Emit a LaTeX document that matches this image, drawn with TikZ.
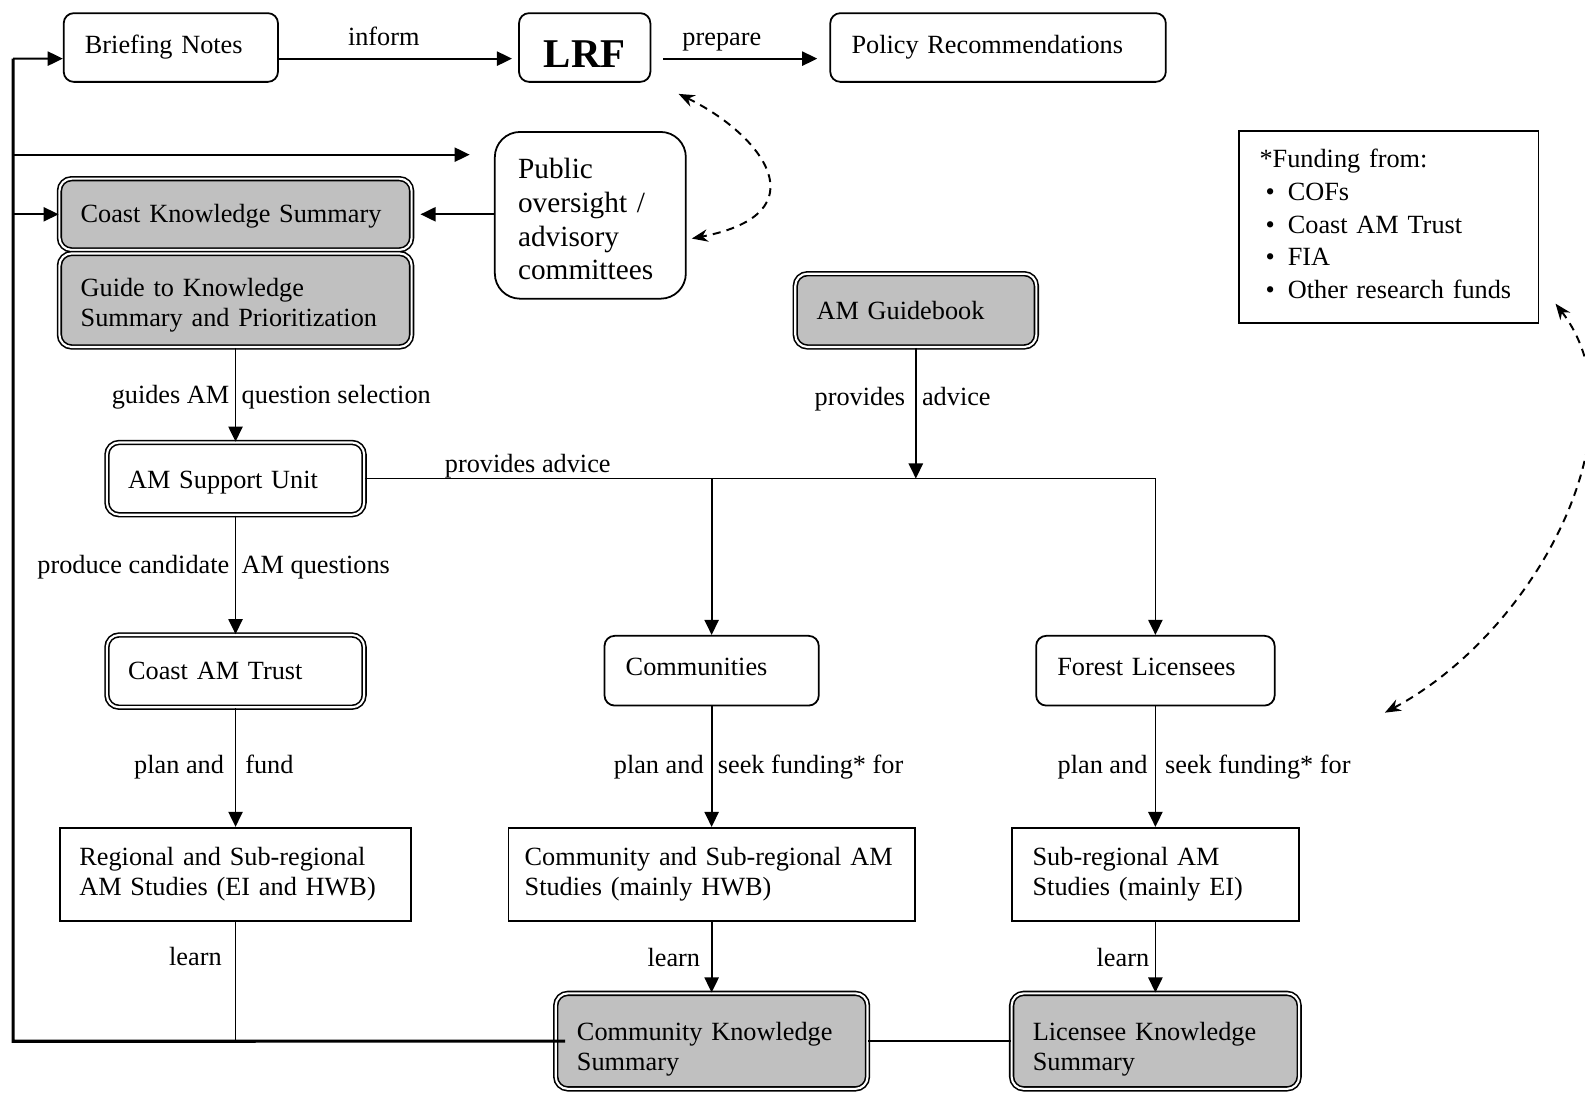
\documentclass[tikz,border=0pt]{standalone}
\usepackage{fontspec}
\setmainfont{Liberation Serif}
\usepackage{tikz}
\usetikzlibrary{arrows.meta,positioning}
\definecolor{boxgray}{RGB}{192,192,192}

\begin{document}
\begin{tikzpicture}[x=0.02cm, y=-0.02cm, >={Triangle[length=8.5pt,width=8pt]},
  every node/.style={font=\fontsize{14.8}{17}\selectfont},
  box/.style={draw, line width=1pt, align=left, inner xsep=0.42cm, inner ysep=0pt},
  roundbox/.style={box, rounded corners=0.2cm},
  dblbox/.style={box, rounded corners=0.24cm, line width=0.9pt, double=white, double distance=1.2pt},
  keybox/.style={dblbox, fill=boxgray},
  link/.style={->, line width=1pt},
  loopline/.style={line width=1.8pt},
  dashlink/.style={{Stealth[length=9pt,width=7pt]}-{Stealth[length=9pt,width=7pt]}, line width=1.1pt, dash pattern=on 4.5pt off 3.5pt},
  lbl/.style={inner xsep=3pt, text height=0.7em, text depth=0.22em, yshift=-2.8pt}]
\useasboundingbox (0,0) rectangle (1568,1082);

% Nodes
\node[roundbox, text width=3.4cm, minimum height=1.36cm] (brief) at (169,47) {Briefing Notes};
\node[roundbox, minimum width=2.6cm, minimum height=1.36cm, text height=22pt,
  font=\fontsize{23}{26}\selectfont\bfseries, right of=brief, node distance=8.19cm] (lrf) {LRF};
\node[roundbox, text width=5.8cm, minimum height=1.36cm, right of=lrf, node distance=8.18cm] (policy) {Policy Recommendations};

\node[box, rounded corners=0.5cm, text width=2.86cm, inner xsep=0.46cm, minimum height=3.3cm,
  font=\fontsize{16.5}{19}\selectfont] (oversight) at (584,213) {\rule{0pt}{16pt}Public\\ oversight /\\ advisory\\ committees};

\node[keybox, text width=6.13cm, minimum height=1.41cm] (cks) at (233,212) {\rule{0pt}{12.7pt}Coast Knowledge Summary};
\node[keybox, text width=6.13cm, minimum height=1.85cm, below of=cks, node distance=1.7cm] (guide) {\rule{0pt}{16pt}Guide to Knowledge\\ Summary and Prioritization};
\node[keybox, text width=3.93cm, minimum height=1.45cm] (guidebook) at (906,307) {AM Guidebook};

\node[box, text width=5.12cm, inner xsep=0.4cm, minimum height=3.8cm,
  font=\fontsize{14.8}{18.5}\selectfont] (fund) at (1374,224.5) {*Funding from:\\
  \hspace*{0.12cm}\makebox[0.44cm][l]{\textbullet}COFs\\
  \hspace*{0.12cm}\makebox[0.44cm][l]{\textbullet}Coast AM Trust\\
  \hspace*{0.12cm}\makebox[0.44cm][l]{\textbullet}FIA\\
  \hspace*{0.12cm}\makebox[0.44cm][l]{\textbullet}Other research funds\rule[-3.5pt]{0pt}{0pt}};

\node[dblbox, text width=4.25cm, minimum height=1.43cm, below of=guide, node distance=3.53cm] (asu) {\rule{0pt}{13.8pt}AM Support Unit};
\node[dblbox, text width=4.25cm, minimum height=1.43cm, below of=asu, node distance=3.81cm] (trust) {Coast AM Trust};
\node[box, text width=6.18cm, inner xsep=0.38cm, minimum height=1.84cm, below of=trust, node distance=4.02cm] (regional) {Regional and Sub-regional\\ AM Studies (EI and HWB)};

\node[roundbox, text width=3.4cm, minimum height=1.38cm] (comm) at (704,663.5) {Communities\rule[-4.5pt]{0pt}{0pt}};
\node[box, text width=7.4cm, inner xsep=0.32cm, minimum height=1.84cm, below of=comm, node distance=4.03cm] (cstud) {Community and Sub-regional AM\\ Studies (mainly HWB)};
\node[keybox, text width=5.33cm, minimum height=1.89cm, below of=cstud, node distance=3.3cm] (ckns) {\rule{0pt}{19.5pt}Community Knowledge\\ Summary};

\node[roundbox, text width=3.88cm, minimum height=1.38cm] (forest) at (1143,663.5) {Forest Licensees\rule[-4.5pt]{0pt}{0pt}};
\node[box, text width=4.86cm, inner xsep=0.41cm, minimum height=1.84cm, below of=forest, node distance=4.03cm] (sstud) {Sub-regional AM\\ Studies (mainly EI)};
\node[keybox, text width=4.85cm, minimum height=1.89cm, below of=sstud, node distance=3.3cm] (lkns) {\rule{0pt}{19.5pt}Licensee Knowledge\\ Summary};

% Top row
\draw[link] ([yshift=-0.22cm]brief.east) -- node[lbl, above=4pt, pos=0.45] {inform} ([xshift=-0.12cm,yshift=-0.22cm]lrf.west);
\draw[link] ([xshift=0.24cm,yshift=-0.22cm]lrf.east) -- node[lbl, above=4pt, pos=0.38] {prepare} ([xshift=-0.24cm,yshift=-0.22cm]policy.west);

% Feedback loop on the left
\coordinate (loopbot) at (13,1030);
\coordinate (looptop) at (13,58);
\coordinate (ovin) at ([xshift=-0.48cm,yshift=1.2cm]oversight.west);
\draw[loopline] ([xshift=0.2cm]ckns.west) -- (loopbot) -- (looptop);
\draw[link] (looptop) -- ([yshift=-0.22cm]brief.west);
\draw[link] (looptop |- ovin) -- (ovin);
\draw[link] (looptop |- cks.west) -- (cks.west);
\draw[link] (oversight.west |- cks.east) -- ([xshift=0.16cm]cks.east);

% Dashed links
\draw[dashlink] ([xshift=0.54cm,yshift=-0.22cm]lrf.south east) .. controls +(82,40) and +(130,-25) .. ([xshift=0.1cm,yshift=-0.46cm]oversight.east);
\coordinate (fundtip) at (1370,705);
\draw[dashlink] ([xshift=0.32cm,yshift=0.4cm]fund.south east) .. controls +(90,117) and +(150,-80) .. (fundtip);

% Support unit and guidebook advice
\draw[link] (guide) -- node[lbl, left] {guides AM} node[lbl, right] {question selection} (asu);
\draw[link] (asu) -- node[lbl, left, pos=0.41] {produce candidate} node[lbl, right, pos=0.41] {AM questions} (trust);
\draw[link] (asu.east) -| node[lbl, above=0pt, pos=0.103] {provides advice} (forest);
\draw[link] (asu.east -| comm) -- (comm);
\draw[link] (guidebook) -- node[lbl, left=2.5pt, pos=0.37] {provides} node[lbl, right, pos=0.37] {advice} (guidebook |- asu.east);

% Studies
\draw[link] (trust) -- node[lbl, left=3pt, pos=0.47] {plan and} node[lbl, right=2pt, pos=0.47] {fund} (regional);
\draw[link] (comm) -- node[lbl, left=1pt, pos=0.48] {plan and} node[lbl, right, pos=0.48] {seek funding* for} (cstud);
\draw[link] (forest) -- node[lbl, left=1pt, pos=0.48] {plan and} node[lbl, right=2pt, pos=0.48] {seek funding* for} (sstud);

% Learning
\draw[line width=0.6pt] (regional) -- node[lbl, left=4.5pt, pos=0.29] {learn} (regional |- ckns.west);
\draw[link] (cstud) -- node[lbl, left=3pt] {learn} (ckns);
\draw[link] (sstud) -- node[lbl, left] {learn} (lkns);
\draw[line width=1.4pt] (ckns) -- (lkns);
\end{tikzpicture}
\end{document}
